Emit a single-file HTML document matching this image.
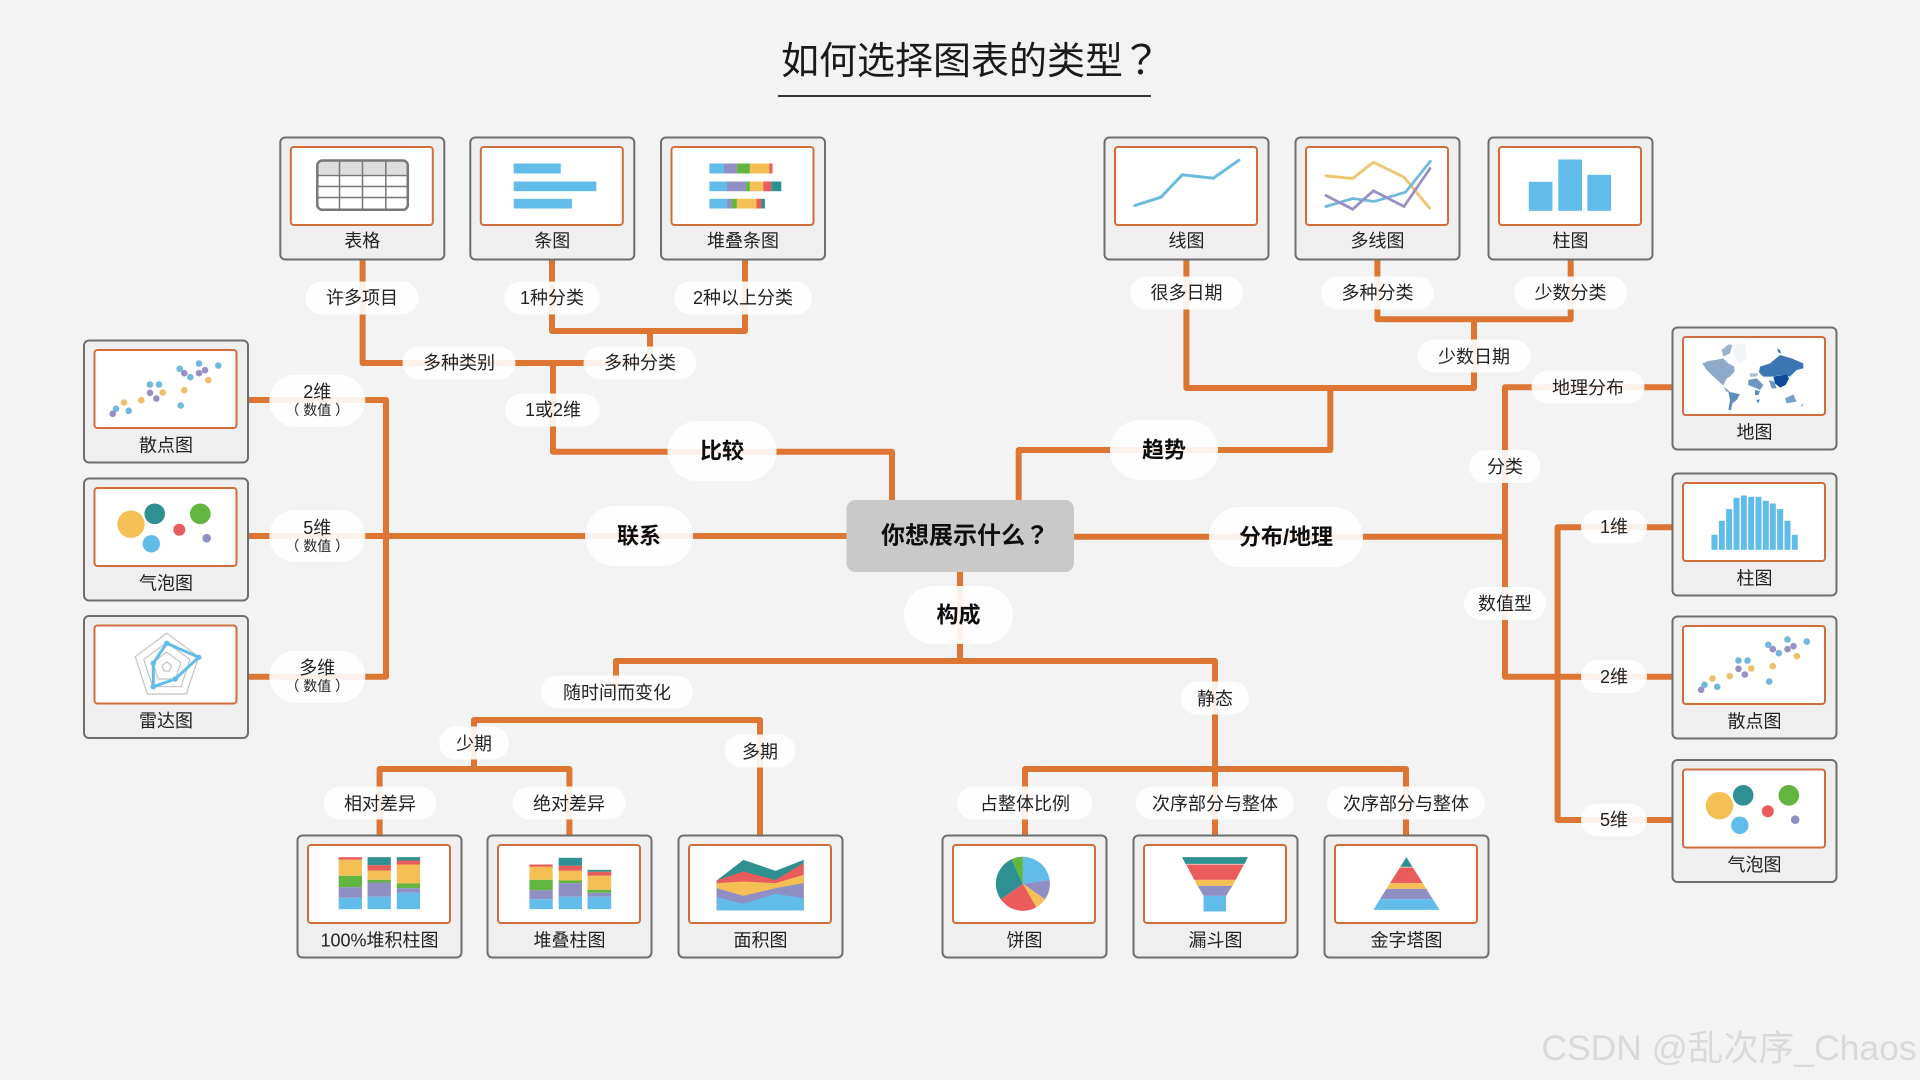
<!DOCTYPE html>
<html lang="zh">
<head>
<meta charset="utf-8">
<title>如何选择图表的类型？</title>
<style>
html,body{margin:0;padding:0;background:#f3f3f3;width:1920px;height:1080px;overflow:hidden}
svg{display:block}
text{font-family:"Liberation Sans","Noto Sans CJK SC",sans-serif;text-anchor:middle;dominant-baseline:central;fill:#222}
.c{font-size:18px}
.p{font-size:18px}
.s{font-size:14px}
.m{font-size:22px;font-weight:700;fill:#0d0d0d}
.q{font-family:"Noto Sans CJK JP",sans-serif}
.b{fill:#62bcea}.u{fill:#8f8fc4}.g{fill:#62b53e}.y{fill:#f4bf55}.r{fill:#ea5c5c}.t{fill:#2e9090}
</style>
</head>
<body>
<svg width="1920" height="1080" viewBox="0 0 1920 1080" xmlns="http://www.w3.org/2000/svg">
<defs>
<g id="frame">
<rect x="1" y="1" width="164" height="122" rx="5" fill="#efefef" stroke="#6e6e6e" stroke-width="2"/>
<rect x="11.500" y="10.500" width="142" height="78" rx="3" fill="#fff" stroke="#cf6d3c" stroke-width="2"/>
</g>
<g id="scatter">
<g fill="#72b8dd"><circle cx="33" cy="69.3" r="3.3"/><circle cx="45.7" cy="71.3" r="3.3"/><circle cx="97.7" cy="66" r="3.3"/><circle cx="67" cy="45" r="3.3"/><circle cx="76" cy="45" r="3.3"/><circle cx="96.7" cy="29.3" r="3.3"/><circle cx="107.3" cy="37.7" r="3.3"/><circle cx="116" cy="24" r="3.3"/><circle cx="135.3" cy="26" r="3.3"/></g>
<g fill="#9890c4"><circle cx="29.7" cy="74.3" r="3.3"/><circle cx="67" cy="53.3" r="3.3"/><circle cx="73.3" cy="59" r="3.3"/><circle cx="101.3" cy="33.7" r="3.3"/><circle cx="116" cy="33.7" r="3.3"/><circle cx="122" cy="30.7" r="3.3"/></g>
<g fill="#ecc069"><circle cx="41" cy="63" r="3.3"/><circle cx="58.3" cy="60.7" r="3.3"/><circle cx="79.7" cy="53" r="3.3"/><circle cx="101.3" cy="50.7" r="3.3"/><circle cx="125.3" cy="40.7" r="3.3"/></g>
</g>
<g id="bubble">
<circle class="y" cx="48" cy="46.7" r="13.7"/><circle class="t" cx="71.7" cy="36.3" r="10.3"/><circle class="b" cx="68.3" cy="66.3" r="8.7"/><circle class="r" cx="96.3" cy="52.3" r="6"/><circle class="g" cx="117.3" cy="36.3" r="10.3"/><circle class="u" cx="123.7" cy="60.7" r="4.3"/>
</g>
</defs>

<rect width="1920" height="1080" fill="#f3f3f3"/>

<text x="952" y="62" style="font-size:38px;fill:#1a1a1a">如何选择图表的类型</text>
<text class="q" x="1141" y="57" style="font-size:40px;fill:#1a1a1a">？</text>
<rect x="778" y="95" width="373" height="2" fill="#333"/>

<!-- connectors -->
<path fill="none" stroke="#dc7632" stroke-width="6" stroke-linejoin="round" d="
M362.6 260V363H640
M552 260V331H745V260
M650 331V363
M553 363V451.7H892V500
M1186.4 260V388H1474V319.3
M1377.4 260V319.3H1570.7V260
M1330.3 388V450H1018.7V500
M249 400H386V676.7H249
M249 536H847
M1074 536.7H1505
M1672 387.3H1505V676.7H1672
M1672 527.3H1557.6V820H1672
M960 572V661
M616 692V661H1215V835
M474 769V720H760V835
M379.6 835V769H569.4V835
M1025 835V769H1406V835
"/>

<!-- center box -->
<rect x="846.5" y="500" width="227.5" height="72" rx="9" fill="#c9c9c9"/>
<text x="953" y="536" style="font-size:24px;font-weight:700;fill:#0d0d0d">你想展示什么</text>
<text class="q" x="1037" y="533" style="font-size:24px;font-weight:700;fill:#0d0d0d">？</text>

<!-- pills -->
<g fill="#fff" fill-opacity=".9">
<rect x="305.500" y="281.500" width="113" height="33" rx="16.500"/>
<rect x="504" y="281.500" width="96" height="33" rx="16.500"/>
<rect x="674" y="281.500" width="138" height="33" rx="16.500"/>
<rect x="402.500" y="346.500" width="113" height="33" rx="16.500"/>
<rect x="583.500" y="346.500" width="113" height="33" rx="16.500"/>
<rect x="505" y="393.500" width="95" height="33" rx="16.500"/>
<rect x="667.500" y="421" width="109" height="60" rx="30"/>
<rect x="1130" y="276.500" width="113" height="33" rx="16.500"/>
<rect x="1321" y="276.500" width="113" height="33" rx="16.500"/>
<rect x="1514" y="276.500" width="113" height="33" rx="16.500"/>
<rect x="1417.500" y="339.500" width="113" height="33" rx="16.500"/>
<rect x="1110" y="420" width="108" height="60" rx="30"/>
<rect x="1531.500" y="370.500" width="113" height="33" rx="16.500"/>
<rect x="1469.500" y="450" width="71" height="33" rx="16.500"/>
<rect x="1464" y="587" width="82" height="33" rx="16.500"/>
<rect x="1209" y="507" width="154" height="60" rx="30"/>
<rect x="1581" y="510.500" width="66" height="33" rx="16.500"/>
<rect x="1581" y="660" width="66" height="33" rx="16.500"/>
<rect x="1581" y="803.500" width="66" height="33" rx="16.500"/>
<rect x="269.300" y="374.700" width="96" height="52" rx="26"/>
<rect x="269.300" y="510" width="96" height="52" rx="26"/>
<rect x="269.300" y="650.700" width="96" height="52" rx="26"/>
<rect x="585" y="506" width="108" height="60" rx="30"/>
<rect x="904" y="586" width="109" height="58" rx="29"/>
<rect x="541" y="675.500" width="152" height="33" rx="16.500"/>
<rect x="439" y="726.500" width="70" height="33" rx="16.500"/>
<rect x="724.500" y="734.500" width="71" height="33" rx="16.500"/>
<rect x="323.500" y="786.500" width="113" height="33" rx="16.500"/>
<rect x="512.500" y="786.500" width="113" height="33" rx="16.500"/>
<rect x="1181" y="681.500" width="68" height="33" rx="16.500"/>
<rect x="957.500" y="786.500" width="135" height="33" rx="16.500"/>
<rect x="1136" y="786.500" width="158" height="33" rx="16.500"/>
<rect x="1327" y="786.500" width="158" height="33" rx="16.500"/>
</g>

<!-- pill labels -->
<g transform="translate(0,1)">
<text class="p" x="362" y="297">许多项目</text>
<text class="p" x="552" y="297">1种分类</text>
<text class="p" x="743" y="297">2种以上分类</text>
<text class="p" x="459" y="362">多种类别</text>
<text class="p" x="640" y="362">多种分类</text>
<text class="p" x="553" y="409">1或2维</text>
<text class="p" x="1186.500" y="292">很多日期</text>
<text class="p" x="1377.500" y="292">多种分类</text>
<text class="p" x="1570.500" y="292">少数分类</text>
<text class="p" x="1474" y="356">少数日期</text>
<text class="p" x="1588" y="387">地理分布</text>
<text class="p" x="1505" y="466">分类</text>
<text class="p" x="1505" y="603">数值型</text>
<text class="p" x="1614" y="526">1维</text>
<text class="p" x="1614" y="676">2维</text>
<text class="p" x="1614" y="819">5维</text>
<text class="p" x="317.300" y="391">2维</text>
<text class="s" x="317.300" y="409">（ 数值 ）</text>
<text class="p" x="317.300" y="527">5维</text>
<text class="s" x="317.300" y="545">（ 数值 ）</text>
<text class="p" x="317.300" y="667">多维</text>
<text class="s" x="317.300" y="685">（ 数值 ）</text>
<text class="p" x="617" y="692">随时间而变化</text>
<text class="p" x="474" y="743">少期</text>
<text class="p" x="760" y="751">多期</text>
<text class="p" x="380" y="803">相对差异</text>
<text class="p" x="569" y="803">绝对差异</text>
<text class="p" x="1215" y="698">静态</text>
<text class="p" x="1025" y="803">占整体比例</text>
<text class="p" x="1215" y="803">次序部分与整体</text>
<text class="p" x="1406" y="803">次序部分与整体</text>
</g>
<text class="m" x="722" y="451">比较</text>
<text class="m" x="1164" y="450">趋势</text>
<text class="m" x="639" y="536">联系</text>
<text class="m" x="1286" y="537">分布/地理</text>
<text class="m" x="958.500" y="615">构成</text>

<!-- 表格 -->
<g transform="translate(279.300,136.500)"><use href="#frame"/>
<path d="M37.500 38V29a5 5 0 0 1 5-5h80.500a5 5 0 0 1 5 5v9z" fill="#ddd"/>
<rect x="38" y="24" width="90.500" height="49.300" rx="5" fill="none" stroke="#777" stroke-width="2.500"/>
<path d="M38 39H128.500M38 50H128.500M38 61H128.500M60.200 24V73M83.200 24V73M106.500 24V73" stroke="#777" stroke-width="1.500" fill="none"/>
<text class="c" x="83" y="104.500">表格</text></g>

<!-- 条图 -->
<g transform="translate(469.300,136.500)"><use href="#frame"/>
<rect class="b" x="44.400" y="27" width="47.100" height="10"/><rect class="b" x="44.400" y="45" width="82.600" height="9.700"/><rect class="b" x="44.400" y="62.300" width="58.200" height="9.700"/>
<text class="c" x="83" y="104.500">条图</text></g>

<!-- 堆叠条图 -->
<g transform="translate(660,136.500)"><use href="#frame"/>
<rect class="b" x="49.400" y="27" width="14.500" height="10"/><rect class="u" x="63.900" y="27" width="13" height="10"/><rect class="g" x="76.900" y="27" width="13" height="10"/><rect class="y" x="89.900" y="27" width="19.500" height="10"/><rect class="r" x="109.400" y="27" width="3.100" height="10"/>
<rect class="b" x="49.400" y="45" width="17.600" height="9.700"/><rect class="u" x="67" y="45" width="19.100" height="9.700"/><rect class="g" x="86.100" y="45" width="3.800" height="9.700"/><rect class="y" x="89.900" y="45" width="13.400" height="9.700"/><rect class="r" x="103.300" y="45" width="8.100" height="9.700"/><rect class="t" x="111.400" y="45" width="9.900" height="9.700"/>
<rect class="b" x="49.400" y="62.300" width="17.600" height="9.700"/><rect class="u" x="67" y="62.300" width="4.600" height="9.700"/><rect class="g" x="71.600" y="62.300" width="5.300" height="9.700"/><rect class="y" x="76.900" y="62.300" width="19.600" height="9.700"/><rect class="r" x="96.500" y="62.300" width="5" height="9.700"/><rect class="t" x="101.500" y="62.300" width="3.400" height="9.700"/>
<text class="c" x="83" y="104.500">堆叠条图</text></g>

<!-- 线图 -->
<g transform="translate(1103.500,136.500)"><use href="#frame"/>
<polyline points="31.400,69 57.400,60.700 78.800,38.300 109.800,41.700 135.500,23.700" fill="none" stroke="#6cb9de" stroke-width="3" stroke-linecap="round"/>
<text class="c" x="83" y="104.500">线图</text></g>

<!-- 多线图 -->
<g transform="translate(1294.500,136.500)"><use href="#frame"/>
<g fill="none" stroke-width="2.800" stroke-linecap="round">
<polyline points="31.400,39.300 58.200,42 78.900,25.700 109.500,40.700 135.200,71.700" stroke="#eec670"/>
<polyline points="31.400,70 58.200,62 79.600,65 111,55.700 135.900,24.700" stroke="#72b8dd"/>
<polyline points="31.400,59 58.200,72.700 78.900,54.300 109.500,70 135.500,32" stroke="#9890c4"/>
</g>
<text class="c" x="83" y="104.500">多线图</text></g>

<!-- 柱图 -->
<g transform="translate(1487.500,136.500)"><use href="#frame"/>
<rect class="b" x="41.300" y="45.300" width="23.700" height="29"/><rect class="b" x="70.800" y="23" width="23.700" height="51.300"/><rect class="b" x="99.900" y="38.300" width="23.700" height="36"/>
<text class="c" x="83" y="104.500">柱图</text></g>

<!-- 散点图 left -->
<g transform="translate(83,339.500)"><use href="#frame"/><use href="#scatter"/><text class="c" x="83" y="106">散点图</text></g>
<!-- 气泡图 left -->
<g transform="translate(83,477.500)"><use href="#frame"/><use href="#bubble"/><text class="c" x="83" y="106">气泡图</text></g>
<!-- 雷达图 -->
<g transform="translate(83,615)"><use href="#frame"/>
<g fill="none" stroke="#c4c4c4" stroke-width="1.200">
<polygon points="83.700,18.300 115.700,41.700 103.300,79 64.300,79 52.300,41.700"/>
<polygon points="83.700,27.400 107,44.500 98,71.700 69.600,71.700 60.800,44.500"/>
<polygon points="83.700,37.200 97.800,47.500 92.400,64 75.200,64 69.800,47.500"/>
<polygon points="83.700,47 88.500,50.500 86.600,56 80.800,56 78.900,50.500"/>
</g>
<polygon points="83.700,28.300 115.700,42.300 92.300,64 70.300,71.700 70.300,48.300" fill="none" stroke="#62bcea" stroke-width="3"/>
<g class="b"><circle cx="83.700" cy="28.300" r="2.700"/><circle cx="115.700" cy="42.300" r="2.700"/><circle cx="92.300" cy="64" r="2.700"/><circle cx="70.300" cy="71.700" r="2.700"/><circle cx="70.300" cy="48.300" r="2.700"/></g>
<text class="c" x="83" y="106">雷达图</text></g>

<!-- 地图 -->
<g transform="translate(1671.500,326.500)"><use href="#frame"/>
<g transform="translate(23.500,8.500) scale(.3333)">
<polygon points="115,30 150,25 155,70 130,85 115,60" fill="#f2f4f7"/>
<polygon points="80,45 100,28 112,30 105,55 85,65" fill="#9fb4cc"/>
<polygon points="22,85 40,78 60,75 85,70 100,85 118,95 118,110 105,125 95,130 85,152 72,140 50,120 35,105" fill="#8fa9c9"/>
<polygon points="85,155 105,170 95,170" fill="#6d95bf"/>
<polygon points="100,170 135,178 125,195 112,205 108,225 100,225 105,195" fill="#5f8fbc"/>
<polygon points="165,115 190,115 185,125 165,125" fill="#a9bcd3"/>
<polygon points="160,135 185,130 205,150 195,165 185,160 160,150" fill="#6d95bf"/>
<polygon points="180,165 195,168 190,180 180,180" fill="#5a8dbd"/>
<polygon points="183,195 195,193 190,205" fill="#5a8dbd"/>
<polygon points="195,95 225,85 255,60 290,70 325,85 325,100 305,105 285,125 260,120 230,125 205,125 192,112" fill="#3b76b2"/>
<polygon points="246,40 256,46 258,56 250,52" fill="#3b76b2"/>
<polygon points="235,125 275,118 282,130 272,150 255,158 240,145" fill="#0f4d9c"/>
<polygon points="222,135 238,140 245,160 230,160" fill="#6d95bf"/>
<polygon points="270,190 295,178 305,200 275,205" fill="#7ba0c8"/>
<polygon points="317,212 325,204 322,216" fill="#9ab2cc"/>
</g>
<text class="c" x="83" y="106">地图</text></g>

<!-- 柱图 right -->
<g transform="translate(1671.500,472.500)"><use href="#frame"/>
<g transform="translate(-21.670,-152.670) scale(.3333)" class="b">
<rect x="185" y="645" width="18" height="45"/><rect x="207" y="603" width="18" height="87"/><rect x="229" y="568" width="18" height="122"/><rect x="251" y="534" width="18" height="156"/><rect x="273" y="527" width="18" height="163"/><rect x="295" y="531" width="18" height="159"/><rect x="317" y="531" width="18" height="159"/><rect x="339" y="543" width="18" height="147"/><rect x="360" y="551" width="18" height="139"/><rect x="382" y="568" width="18" height="122"/><rect x="404" y="603" width="18" height="87"/><rect x="426" y="645" width="18" height="45"/>
</g>
<text class="c" x="83" y="106">柱图</text></g>

<!-- 散点图 right -->
<g transform="translate(1671.500,615.500)"><use href="#frame"/><use href="#scatter"/><text class="c" x="83" y="106">散点图</text></g>
<!-- 气泡图 right -->
<g transform="translate(1671.500,759)"><use href="#frame"/><use href="#bubble"/><text class="c" x="83" y="106">气泡图</text></g>

<!-- 100%堆积柱图 -->
<g transform="translate(296.500,834.500)"><use href="#frame"/>
<g transform="scale(.37,.3333) translate(-45,-44)">
<rect class="r" x="159" y="112" width="63" height="8"/><rect class="y" x="159" y="120" width="63" height="48"/><rect class="g" x="159" y="168" width="63" height="34"/><rect class="u" x="159" y="202" width="63" height="32"/><rect class="b" x="159" y="234" width="63" height="34"/>
<rect class="t" x="237" y="112" width="63" height="24"/><rect class="r" x="237" y="136" width="63" height="16"/><rect class="y" x="237" y="152" width="63" height="28"/><rect class="g" x="237" y="180" width="63" height="8"/><rect class="u" x="237" y="188" width="63" height="43"/><rect class="b" x="237" y="231" width="63" height="37"/>
<rect class="t" x="316" y="112" width="63" height="10"/><rect class="r" x="316" y="122" width="63" height="12"/><rect class="y" x="316" y="134" width="63" height="57"/><rect class="g" x="316" y="191" width="63" height="14"/><rect class="u" x="316" y="205" width="63" height="14"/><rect class="b" x="316" y="219" width="63" height="49"/>
</g>
<text class="c" x="83" y="106">100%堆积柱图</text></g>

<!-- 堆叠柱图 -->
<g transform="translate(486.500,834.500)"><use href="#frame"/>
<g transform="scale(.37,.3333) translate(-558,-44)">
<rect class="r" x="674" y="134" width="63" height="7"/><rect class="y" x="674" y="141" width="63" height="39"/><rect class="g" x="674" y="180" width="63" height="31"/><rect class="u" x="674" y="211" width="63" height="27"/><rect class="b" x="674" y="238" width="63" height="30"/>
<rect class="t" x="753" y="114" width="63" height="24"/><rect class="r" x="753" y="138" width="63" height="15"/><rect class="y" x="753" y="153" width="63" height="29"/><rect class="g" x="753" y="182" width="63" height="8"/><rect class="u" x="753" y="190" width="63" height="41"/><rect class="b" x="753" y="231" width="63" height="37"/>
<rect class="t" x="831" y="150" width="64" height="6"/><rect class="r" x="831" y="156" width="64" height="12"/><rect class="y" x="831" y="168" width="64" height="42"/><rect class="g" x="831" y="210" width="64" height="9"/><rect class="u" x="831" y="219" width="64" height="12"/><rect class="b" x="831" y="231" width="64" height="37"/>
</g>
<text class="c" x="83" y="106">堆叠柱图</text></g>

<!-- 面积图 -->
<g transform="translate(677.500,834.500)"><use href="#frame"/>
<g transform="scale(.37,.3333) translate(-1075,-44)">
<polygon class="t" points="1181,182 1253,120 1340,153 1416,120 1416,272 1181,272"/>
<polygon class="r" points="1181,182 1253,155 1340,180 1416,130 1416,272 1181,272"/>
<polygon class="y" points="1181,190 1253,185 1340,190 1416,165 1416,272 1181,272"/>
<polygon class="u" points="1181,205 1253,228 1340,205 1416,190 1416,272 1181,272"/>
<polygon class="b" points="1181,232 1253,252 1340,222 1416,235 1416,272 1181,272"/>
</g>
<text class="c" x="83" y="106">面积图</text></g>

<!-- 饼图 -->
<g transform="translate(941.500,834.500)"><use href="#frame"/>
<path class="b" d="M81.400 49.300L81.400 22.300A27 27 0 0 1 108.100 45.500Z"/>
<path class="u" d="M81.400 49.300L108.100 45.500A27 27 0 0 1 103.500 64.800Z"/>
<path class="y" d="M81.400 49.300L103.500 64.800A27 27 0 0 1 94.900 72.700Z"/>
<path class="r" d="M81.400 49.300L94.900 72.700A27 27 0 0 1 59.300 64.800Z"/>
<path class="t" d="M81.400 49.300L59.300 64.800A27 27 0 0 1 70 24.800Z"/>
<path class="g" d="M81.400 49.300L70 24.800A27 27 0 0 1 81.400 22.300Z"/>
<text class="c" x="83" y="106">饼图</text></g>

<!-- 漏斗图 -->
<g transform="translate(1132.500,834.500)"><use href="#frame"/>
<g transform="scale(.37,.3333) translate(-549,-44)">
<polygon class="t" points="683,112 861,112 852,132 692,132"/>
<polygon class="r" points="694,134 850,134 828,180 716,180"/>
<polygon class="y" points="717,180 827,180 820,198 724,198"/>
<polygon class="u" points="725,198 819,198 802,228 741,228"/>
<rect class="b" x="741" y="228" width="61" height="47"/>
</g>
<text class="c" x="83" y="106">漏斗图</text></g>

<!-- 金字塔图 -->
<g transform="translate(1323.500,834.500)"><use href="#frame"/>
<g transform="scale(.37,.3333) translate(-1065,-44)">
<polygon class="t" points="1289,112 1305.400,141 1272.600,141"/>
<polygon class="r" points="1271.400,143 1306.600,143 1333.200,190 1244.800,190"/>
<polygon class="y" points="1244.800,190 1333.200,190 1342.800,207 1235.200,207"/>
<polygon class="u" points="1235.200,207 1342.800,207 1360.400,238 1217.600,238"/>
<polygon class="b" points="1217.600,238 1360.400,238 1379,270 1200,270"/>
</g>
<text class="c" x="83" y="106">金字塔图</text></g>

<!-- watermark -->
<text x="1729" y="1048" style="font-size:35.5px;fill:#d9d9d9">CSDN @乱次序_Chaos</text>
</svg>
</body>
</html>
